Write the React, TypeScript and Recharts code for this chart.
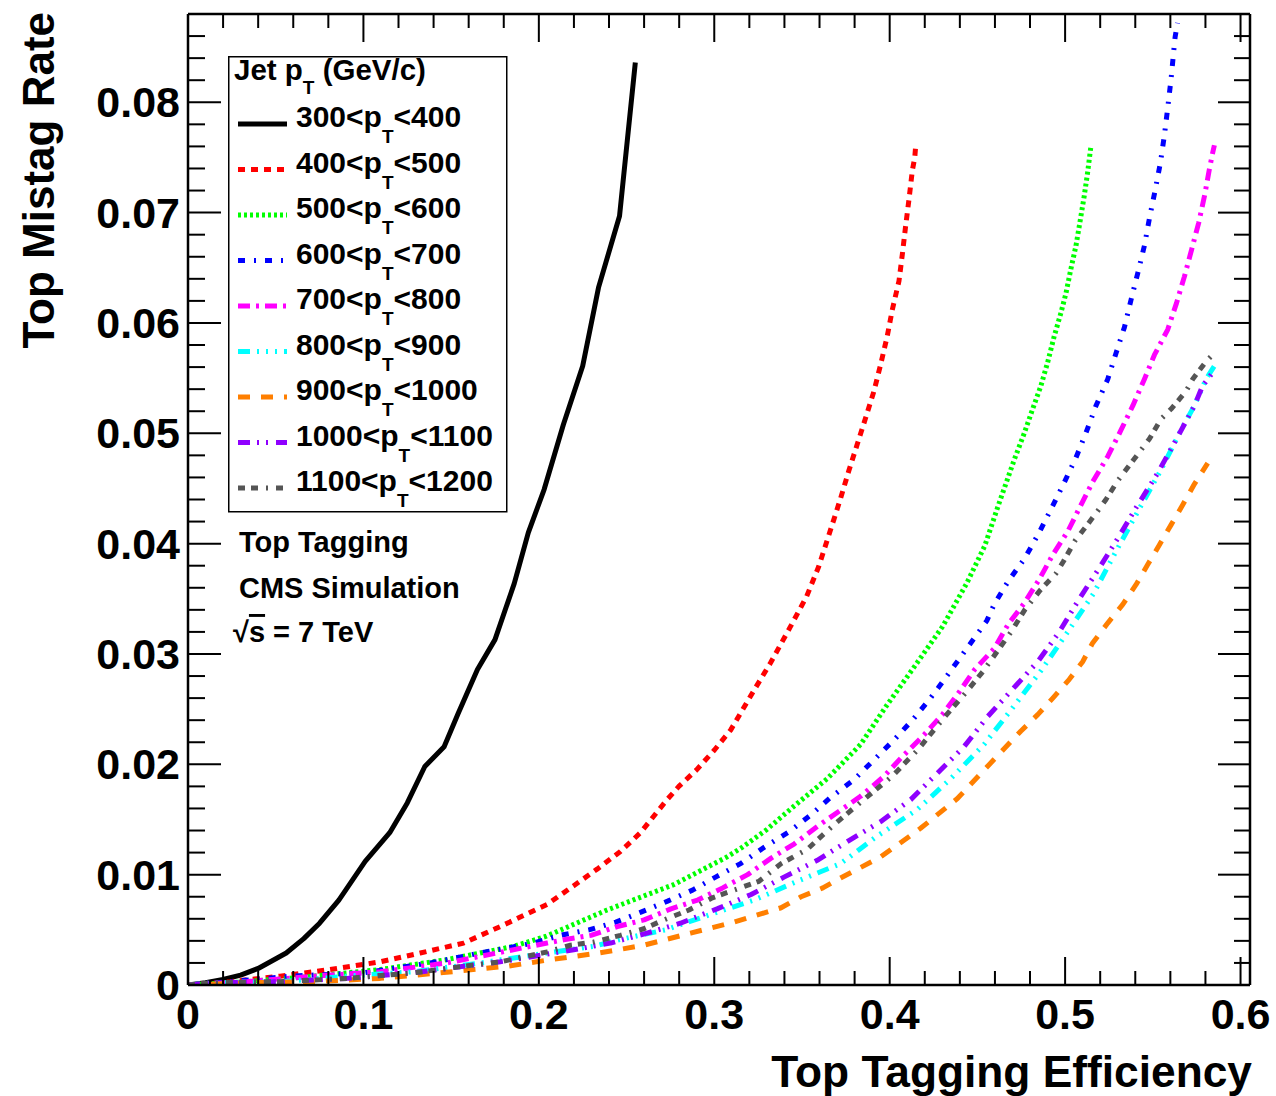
import React from 'react';
import { LineChart, Line, XAxis, YAxis, Legend } from 'recharts';

const FONT = '"Liberation Sans", Arial, Helvetica, sans-serif';

// ---- data: top tagging efficiency (x) vs top mistag rate (y), one pair of arrays per pT bin ----
const eff_300_400 = [0, 0.010, 0.020, 0.030, 0.040, 0.056, 0.066, 0.075, 0.086, 0.101, 0.115, 0.125, 0.135, 0.146, 0.154, 0.165, 0.175, 0.186, 0.194, 0.203, 0.214, 0.225, 0.234, 0.246, 0.255];
const mis_300_400 = [0, 0.0002, 0.0005, 0.0009, 0.0015, 0.0029, 0.0042, 0.0056, 0.0077, 0.0112, 0.0138, 0.0165, 0.0198, 0.0216, 0.0246, 0.0286, 0.0313, 0.0364, 0.0410, 0.0449, 0.0508, 0.0561, 0.0632, 0.0697, 0.0836];

const eff_400_500 = [0, 0.024, 0.0525, 0.081, 0.1096, 0.1324, 0.1571, 0.178, 0.2047, 0.2199, 0.2332, 0.2465, 0.2579, 0.2731, 0.2798, 0.2899, 0.3001, 0.3093, 0.323, 0.3321, 0.3435, 0.3526, 0.3595, 0.3682, 0.372, 0.3767, 0.3815, 0.3863, 0.391, 0.3948, 0.3986, 0.4015, 0.4053, 0.4072, 0.4091, 0.411, 0.4129, 0.4143, 0.4148];
const mis_400_500 = [0, 0.0003, 0.0008, 0.0014, 0.0021, 0.0029, 0.0038, 0.0053, 0.0073, 0.0090, 0.0105, 0.0121, 0.0138, 0.0168, 0.0180, 0.0195, 0.0213, 0.0231, 0.0268, 0.0292, 0.0325, 0.0352, 0.0379, 0.0422, 0.0441, 0.0466, 0.0490, 0.0514, 0.0538, 0.0562, 0.0588, 0.0612, 0.0638, 0.0662, 0.0688, 0.0712, 0.0738, 0.0750, 0.0760];

const eff_500_600 = [0, 0.0335, 0.0715, 0.1096, 0.1476, 0.1855, 0.2039, 0.2389, 0.2769, 0.3072, 0.3161, 0.330, 0.3454, 0.3644, 0.3834, 0.3986, 0.4143, 0.4302, 0.4439, 0.4542, 0.462, 0.471, 0.4767, 0.4815, 0.4862, 0.490, 0.4938, 0.4976, 0.5005, 0.5033, 0.5062, 0.5081, 0.5109, 0.5128, 0.5147];
const mis_500_600 = [0, 0.0003, 0.0008, 0.0014, 0.0023, 0.0035, 0.0044, 0.0068, 0.0091, 0.0116, 0.0125, 0.0141, 0.0162, 0.0187, 0.0218, 0.0254, 0.0289, 0.0325, 0.0364, 0.0398, 0.0435, 0.0476, 0.0500, 0.0522, 0.0543, 0.0564, 0.0588, 0.0609, 0.0627, 0.0649, 0.0670, 0.0688, 0.0715, 0.0736, 0.0760];

const eff_600_700 = [0, 0.024, 0.0582, 0.100, 0.1381, 0.1666, 0.197, 0.2123, 0.2285, 0.2439, 0.2582, 0.2734, 0.2876, 0.301, 0.315, 0.3286, 0.3428, 0.3549, 0.3663, 0.3796, 0.4024, 0.4129, 0.4223, 0.428, 0.4417, 0.4553, 0.4596, 0.4676, 0.4767, 0.4849, 0.4919, 0.4991, 0.5062, 0.5118, 0.5176, 0.5243, 0.5291, 0.5338, 0.5376, 0.5414, 0.5452, 0.5481, 0.5513, 0.5543, 0.5566, 0.5585, 0.5604, 0.5619, 0.5627, 0.5641];
const mis_600_700 = [0, 0.0003, 0.0008, 0.0011, 0.0020, 0.0029, 0.0038, 0.0045, 0.0050, 0.0057, 0.0066, 0.0076, 0.0086, 0.0098, 0.0110, 0.0125, 0.0139, 0.0154, 0.0170, 0.0186, 0.0222, 0.0240, 0.0258, 0.0270, 0.0300, 0.0330, 0.0345, 0.0366, 0.0386, 0.0409, 0.0431, 0.0454, 0.0478, 0.0500, 0.0525, 0.0549, 0.0573, 0.0596, 0.0621, 0.0645, 0.0670, 0.0695, 0.0720, 0.0745, 0.0770, 0.0795, 0.0821, 0.0846, 0.0859, 0.0872];

const eff_700_800 = [0, 0.0335, 0.0715, 0.1096, 0.1476, 0.1762, 0.2047, 0.2142, 0.2297, 0.2448, 0.260, 0.2753, 0.2905, 0.3048, 0.319, 0.3324, 0.3457, 0.359, 0.3834, 0.3967, 0.4072, 0.4186, 0.430, 0.4394, 0.4485, 0.4596, 0.4676, 0.4767, 0.4854, 0.493, 0.5015, 0.5087, 0.5157, 0.5243, 0.5319, 0.5386, 0.5452, 0.5509, 0.5585, 0.5635, 0.568, 0.5722, 0.5762, 0.5797, 0.5822, 0.5841, 0.5851];
const mis_700_800 = [0, 0.0003, 0.0008, 0.0012, 0.0020, 0.0029, 0.0038, 0.0041, 0.0045, 0.0053, 0.0059, 0.0069, 0.0077, 0.0088, 0.0100, 0.0115, 0.0128, 0.0144, 0.0171, 0.0189, 0.0207, 0.0225, 0.0245, 0.0265, 0.0286, 0.0305, 0.0327, 0.0346, 0.0368, 0.0390, 0.0411, 0.0434, 0.0456, 0.0479, 0.0503, 0.0525, 0.0549, 0.0571, 0.0594, 0.0618, 0.0642, 0.0667, 0.0691, 0.0717, 0.0739, 0.0754, 0.0761];

const eff_800_900 = [0, 0.0143, 0.0525, 0.0906, 0.1286, 0.1666, 0.2047, 0.2313, 0.2456, 0.2722, 0.2979, 0.3227, 0.3473, 0.372, 0.3929, 0.4157, 0.4348, 0.4538, 0.470, 0.4863, 0.5015, 0.5163, 0.529, 0.5414, 0.5547, 0.5661, 0.5737, 0.5803, 0.5851];
const mis_800_900 = [0, 0.0002, 0.0003, 0.0008, 0.0012, 0.0020, 0.0029, 0.0035, 0.0041, 0.0050, 0.0064, 0.0077, 0.0094, 0.0110, 0.0135, 0.0159, 0.0187, 0.0218, 0.0251, 0.0285, 0.0320, 0.0355, 0.0393, 0.0429, 0.0467, 0.0503, 0.0525, 0.0549, 0.0561];

const eff_900_1000 = [0, 0.0335, 0.0715, 0.1096, 0.1438, 0.1819, 0.2066, 0.2342, 0.2598, 0.2865, 0.3112, 0.3381, 0.3495, 0.3619, 0.372, 0.3948, 0.4176, 0.4386, 0.4557, 0.4747, 0.4844, 0.493, 0.5024, 0.510, 0.5157, 0.5243, 0.5329, 0.5405, 0.5471, 0.5538, 0.5604, 0.567, 0.5737, 0.5813];
const mis_900_1000 = [0, 0.0002, 0.0003, 0.0006, 0.0011, 0.0017, 0.0023, 0.0029, 0.0036, 0.0047, 0.0057, 0.0070, 0.0080, 0.0088, 0.0097, 0.0116, 0.0142, 0.0169, 0.0198, 0.0230, 0.0245, 0.0260, 0.0277, 0.0293, 0.0310, 0.0328, 0.0345, 0.0363, 0.0381, 0.0399, 0.0417, 0.0435, 0.0454, 0.0473];

const eff_1000_1100 = [0, 0.0143, 0.0525, 0.0906, 0.1286, 0.1571, 0.178, 0.2009, 0.2199, 0.2408, 0.2617, 0.2807, 0.3016, 0.321, 0.340, 0.3587, 0.3758, 0.3948, 0.412, 0.4272, 0.4424, 0.4557, 0.470, 0.4844, 0.4967, 0.5081, 0.5195, 0.5309, 0.5414, 0.5528, 0.5632, 0.5737, 0.5784, 0.5841];
const mis_1000_1100 = [0, 0.0002, 0.0003, 0.0006, 0.0011, 0.0017, 0.0021, 0.0027, 0.0032, 0.0038, 0.0047, 0.0056, 0.0069, 0.0082, 0.0098, 0.0113, 0.0130, 0.0148, 0.0168, 0.0192, 0.0216, 0.0243, 0.0268, 0.0293, 0.0320, 0.0350, 0.0378, 0.0407, 0.0435, 0.0464, 0.0494, 0.0525, 0.0543, 0.0555];

const eff_1100_1200 = [0, 0.0143, 0.0525, 0.0906, 0.1286, 0.1571, 0.178, 0.2047, 0.218, 0.2313, 0.2465, 0.2598, 0.2713, 0.2856, 0.2989, 0.3112, 0.3255, 0.3381, 0.353, 0.3681, 0.3852, 0.4013, 0.4165, 0.4298, 0.4439, 0.4531, 0.4616, 0.4692, 0.477, 0.4859, 0.4948, 0.4991, 0.5058, 0.5107, 0.5183, 0.5233, 0.530, 0.5433, 0.5481, 0.5547, 0.5604, 0.5689, 0.5727, 0.5803, 0.5851];
const mis_1100_1200 = [0, 0.0002, 0.0003, 0.0006, 0.0011, 0.0017, 0.0021, 0.0030, 0.0036, 0.0039, 0.0045, 0.0051, 0.0059, 0.0068, 0.0079, 0.0086, 0.0094, 0.0110, 0.0123, 0.0145, 0.0168, 0.0189, 0.0214, 0.0240, 0.0266, 0.0284, 0.0303, 0.0320, 0.0340, 0.0358, 0.0373, 0.0384, 0.0403, 0.0413, 0.0429, 0.0440, 0.0457, 0.0485, 0.0495, 0.0513, 0.0522, 0.0538, 0.0549, 0.0565, 0.0573];

// ---- labels ----
const binLabels = [
  ['300', '400'], ['400', '500'], ['500', '600'], ['600', '700'], ['700', '800'],
  ['800', '900'], ['900', '1000'], ['1000', '1100'], ['1100', '1200'],
];
const xTickLabels = ['0', '0.1', '0.2', '0.3', '0.4', '0.5', '0.6'];
const yTickLabels = ['0', '0.01', '0.02', '0.03', '0.04', '0.05', '0.06', '0.07', '0.08'];
const xTitle = 'Top Tagging Efficiency';
const yTitle = 'Top Mistag Rate';
const notes = ['Top Tagging', 'CMS Simulation'];

const zip = (xs: number[], ys: number[]) => xs.map((x, i) => ({ x, y: ys[i] }));

const styles = [
  { color: '#000000', width: 5, dash: undefined },
  { color: '#ff0000', width: 5, dash: '7 6' },
  { color: '#00ff00', width: 5, dash: '3 3' },
  { color: '#0000ff', width: 5, dash: '7 9 2 9' },
  { color: '#ff00ff', width: 5, dash: '12 6 3 6' },
  { color: '#00ffff', width: 5, dash: '12 7 2 7 2 7 2 7' },
  { color: '#ff7f00', width: 5, dash: '12 11' },
  { color: '#8f00ff', width: 5, dash: '12 7 2 7 2 8' },
  { color: '#555555', width: 5, dash: '7 6 7 8 2 8' },
];

const seriesData = [
  zip(eff_300_400, mis_300_400),
  zip(eff_400_500, mis_400_500),
  zip(eff_500_600, mis_500_600),
  zip(eff_600_700, mis_600_700),
  zip(eff_700_800, mis_700_800),
  zip(eff_800_900, mis_800_900),
  zip(eff_900_1000, mis_900_1000),
  zip(eff_1000_1100, mis_1000_1100),
  zip(eff_1100_1200, mis_1100_1200),
];

const X_STEP = 0.02;
const Y_STEP = 0.002;
const xTicks = Array.from({ length: 31 }, (_, i) => +(i * X_STEP).toFixed(3));
const yTicks = Array.from({ length: 45 }, (_, i) => +(i * Y_STEP).toFixed(4));
const X_MAX = 0.6054;
const Y_MAX = 0.088;

const W = 1276;
const H = 1096;

const BottomTick = (p: any) => {
  const i = Math.round(p.payload.value / X_STEP);
  const major = i % 5 === 0;
  return (
    <g>
      <line x1={p.x} x2={p.x} y1={p.y} y2={p.y - (major ? 28 : 14)} stroke="#000" strokeWidth={2} />
      {major && (
        <text x={p.x} y={p.y + 44} textAnchor="middle" fontFamily={FONT} fontWeight="bold" fontSize={43} fill="#000">
          {xTickLabels[i / 5]}
        </text>
      )}
    </g>
  );
};

const TopTick = (p: any) => {
  const i = Math.round(p.payload.value / X_STEP);
  const major = i % 5 === 0;
  return <line x1={p.x} x2={p.x} y1={p.y} y2={p.y + (major ? 28 : 14)} stroke="#000" strokeWidth={2} />;
};

const LeftTick = (p: any) => {
  const i = Math.round(p.payload.value / Y_STEP);
  const major = i % 5 === 0;
  return (
    <g>
      <line x1={p.x} x2={p.x + (major ? 33 : 17)} y1={p.y} y2={p.y} stroke="#000" strokeWidth={2} />
      {major && (
        <text x={p.x - 8} y={p.y + 15} textAnchor="end" fontFamily={FONT} fontWeight="bold" fontSize={43} fill="#000">
          {yTickLabels[i / 5]}
        </text>
      )}
    </g>
  );
};

const RightTick = (p: any) => {
  const i = Math.round(p.payload.value / Y_STEP);
  const major = i % 5 === 0;
  return <line x1={p.x} x2={p.x - (major ? 32 : 16)} y1={p.y} y2={p.y} stroke="#000" strokeWidth={2} />;
};

const LegendBox = () => {
  const rowH = 45.5;
  return (
    <svg width={280} height={457} style={{ display: 'block', overflow: 'visible' }}>
      <rect x={0.75} y={0.75} width={278} height={455} fill="#fff" stroke="#000" strokeWidth={1.5} />
      <text x={6} y={24} fontFamily={FONT} fontWeight="bold" fontSize={29.5} fill="#000">
        Jet p<tspan dy={14} fontSize={19}>T</tspan><tspan dy={-14}> (GeV/c)</tspan>
      </text>
      {styles.map((s, i) => {
        const ly = 68 + rowH * i;
        return (
          <g key={i}>
            <line x1={10} x2={59} y1={ly} y2={ly} stroke={s.color} strokeWidth={s.width} strokeDasharray={s.dash} />
            <text x={68} y={ly + 3} fontFamily={FONT} fontWeight="bold" fontSize={30} fill="#000">
              {binLabels[i][0]}&lt;p<tspan dy={16} fontSize={19}>T</tspan><tspan dy={-16}>&lt;{binLabels[i][1]}</tspan>
            </text>
          </g>
        );
      })}
    </svg>
  );
};

export default function App() {
  return (
    <div style={{ position: 'absolute', left: 0, top: 0, width: W, height: H, background: '#fff' }}>
      <LineChart width={W} height={H} margin={{ top: 0, right: 0, bottom: 0, left: 0 }}>
        <XAxis
          xAxisId="b"
          orientation="bottom"
          dataKey="x"
          type="number"
          domain={[0, X_MAX]}
          allowDataOverflow
          ticks={xTicks}
          interval={0}
          height={111}
          tickSize={0}
          tickMargin={0}
          tickLine={false}
          axisLine={{ stroke: '#000', strokeWidth: 2.5 }}
          tick={<BottomTick />}
        />
        <XAxis
          xAxisId="t"
          orientation="top"
          dataKey="x"
          type="number"
          domain={[0, X_MAX]}
          allowDataOverflow
          ticks={xTicks}
          interval={0}
          height={14}
          tickSize={0}
          tickMargin={0}
          tickLine={false}
          axisLine={{ stroke: '#000', strokeWidth: 2.5 }}
          tick={<TopTick />}
        />
        <YAxis
          yAxisId="l"
          orientation="left"
          type="number"
          domain={[0, Y_MAX]}
          allowDataOverflow
          ticks={yTicks}
          interval={0}
          width={188}
          tickSize={0}
          tickMargin={0}
          tickLine={false}
          axisLine={{ stroke: '#000', strokeWidth: 2.5 }}
          tick={<LeftTick />}
        />
        <YAxis
          yAxisId="r"
          orientation="right"
          type="number"
          domain={[0, Y_MAX]}
          allowDataOverflow
          ticks={yTicks}
          interval={0}
          width={26}
          tickSize={0}
          tickMargin={0}
          tickLine={false}
          axisLine={{ stroke: '#000', strokeWidth: 2.5 }}
          tick={<RightTick />}
        />
        {seriesData.map((d, i) => (
          <Line
            key={i}
            data={d}
            dataKey="y"
            xAxisId="b"
            yAxisId="l"
            type="linear"
            dot={false}
            activeDot={false}
            stroke={styles[i].color}
            strokeWidth={styles[i].width}
            strokeDasharray={styles[i].dash}
            strokeLinejoin="round"
            isAnimationActive={false}
          />
        ))}
        <Legend
          layout="horizontal"
          verticalAlign="middle"
          align="center"
          content={<LegendBox />}
          wrapperStyle={{ left: 228, top: 56, width: 280, height: 457 }}
        />
      </LineChart>
      <svg width={W} height={H} style={{ position: 'absolute', left: 0, top: 0, pointerEvents: 'none' }}>
        <text x={1252} y={1087} textAnchor="end" fontFamily={FONT} fontWeight="bold" fontSize={44.3} fill="#000">
          {xTitle}
        </text>
        <text transform="translate(54,12) rotate(-90)" textAnchor="end" fontFamily={FONT} fontWeight="bold" fontSize={44} fill="#000">
          {yTitle}
        </text>
        <text x={239} y={552} fontFamily={FONT} fontWeight="bold" fontSize={29} fill="#000">{notes[0]}</text>
        <text x={239} y={598} fontFamily={FONT} fontWeight="bold" fontSize={29} fill="#000">{notes[1]}</text>
        <text x={233} y={642} fontFamily={FONT} fontWeight="bold" fontSize={29} fill="#000">
          √<tspan style={{ textDecoration: 'overline' }}>s</tspan> = 7 TeV
        </text>
      </svg>
    </div>
  );
}
